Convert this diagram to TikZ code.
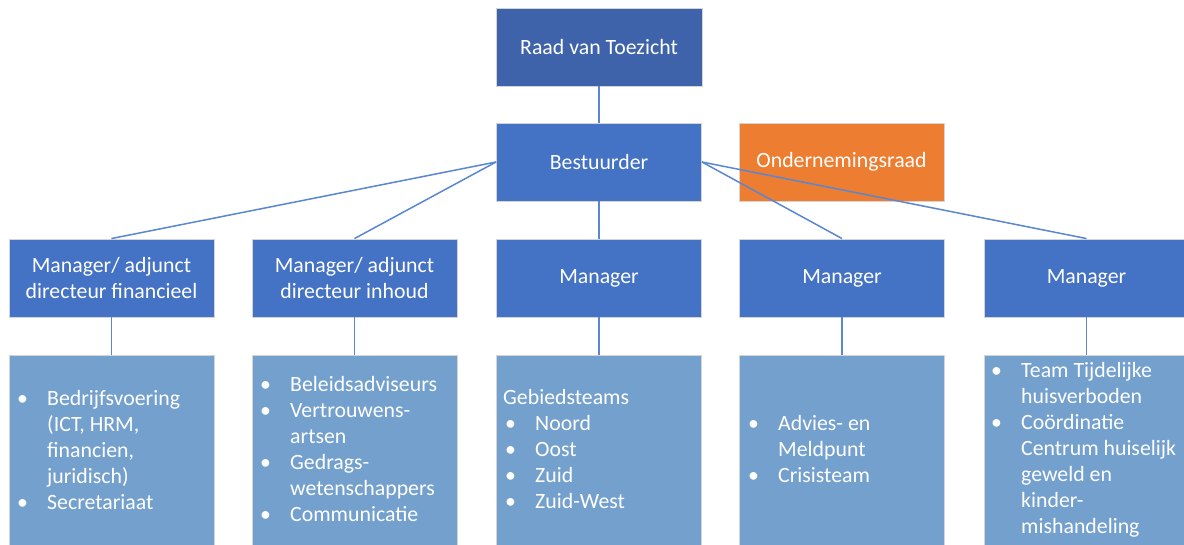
\documentclass[tikz,border=0pt]{standalone}
\usepackage{fontspec}
\setmainfont{Carlito}
\definecolor{raad}{HTML}{3F63AB}
\definecolor{mgr}{HTML}{4472C4}
\definecolor{orng}{HTML}{ED7D31}
\definecolor{subc}{HTML}{74A0CE}
\definecolor{edge}{HTML}{D4D4D4}
\definecolor{conn}{HTML}{5A86D2}
\newcommand{\itm}[1]{\makebox[30pt][l]{\textbullet}#1}
\newcommand{\cnt}[1]{\hspace*{30pt}#1}
\tikzset{
  box/.style={draw=edge, line width=0.9pt, minimum width=205pt, minimum height=78pt,
    inner sep=0pt, text=white, align=center, font=\fontsize{21.8}{26}\selectfont},
  raadbox/.style={box, fill=raad, minimum width=206pt},
  mgrbox/.style={box, fill=mgr},
  orbox/.style={box, fill=orng},
  subbox/.style={box, fill=subc, minimum height=200pt},
  subtext/.style={anchor=west, inner sep=0pt, text=white, align=left, font=\fontsize{21.8}{26}\selectfont},
  link/.style={draw=conn, line width=1.5pt}
}
\begin{document}
\begin{tikzpicture}[x=1pt, y=-1pt]
\useasboundingbox (0,0) rectangle (1184,545);
% top
\node[raadbox] (raad) at (599,47) {Raad van Toezicht};
\node[mgrbox] (best) at (599,162) {Bestuurder};
\node[orbox] (or) at (841.5,162) {Ondernemingsraad};
% managers
\node[mgrbox] (m1) at (111.5,278) {Manager/ adjunct\\directeur financieel};
\node[mgrbox] (m2) at (354.5,278) {Manager/ adjunct\\directeur inhoud};
\node[mgrbox] (m3) at (599,278) {Manager};
\node[mgrbox] (m4) at (842,278) {Manager};
\node[mgrbox] (m5) at (1086.5,278) {Manager};
% sub boxes
\node[subbox] (s1) at (111.5,455) {};
\node[subbox] (s2) at (354.5,455) {};
\node[subbox] (s3) at (599,455) {};
\node[subbox] (s4) at (842,455) {};
\node[subbox] (s5) at (1086.5,455) {};
% connectors
\draw[link] (raad.south) -- (best.north);
\draw[link] (best.west) -- (m1.north);
\draw[link] (best.west) -- (m2.north);
\draw[link] (best.south) -- (m3.north);
\draw[link] (best.east) -- (m4.north);
\draw[link] (best.east) -- (m5.north);
\draw[link] (m1.south) -- (s1.north);
\draw[link] (m2.south) -- (s2.north);
\draw[link] (m3.south) -- (s3.north);
\draw[link] (m4.south) -- (s4.north);
\draw[link] (m5.south) -- (s5.north);
% texts
\node[subtext] (t1) at (17,450) {\itm{Bedrijfsvoering}\\\cnt{(ICT, HRM,}\\\cnt{financien,}\\\cnt{juridisch)}\\\itm{Secretariaat}};
\node[subtext] (t2) at (260,449) {\itm{Beleidsadviseurs}\\\itm{Vertrouwens-}\\\cnt{artsen}\\\itm{Gedrags-}\\\cnt{wetenschappers}\\\itm{Communicatie}};
\node[subtext] (t3) at (503,449.5) {Gebiedsteams\\\hspace*{2pt}\itm{Noord}\\\hspace*{2pt}\itm{Oost}\\\hspace*{2pt}\itm{Zuid}\\\hspace*{2pt}\itm{Zuid-West}};
\node[subtext] (t4) at (748,449.5) {\itm{Advies- en}\\\cnt{Meldpunt}\\\itm{Crisisteam}};
\node[subtext] (t5) at (991,450) {\itm{Team Tijdelijke}\\\cnt{huisverboden}\\\itm{Coördinatie}\\\cnt{Centrum huiselijk}\\\cnt{geweld en}\\\cnt{kinder-}\\\cnt{mishandeling}};
\end{tikzpicture}
\end{document}
